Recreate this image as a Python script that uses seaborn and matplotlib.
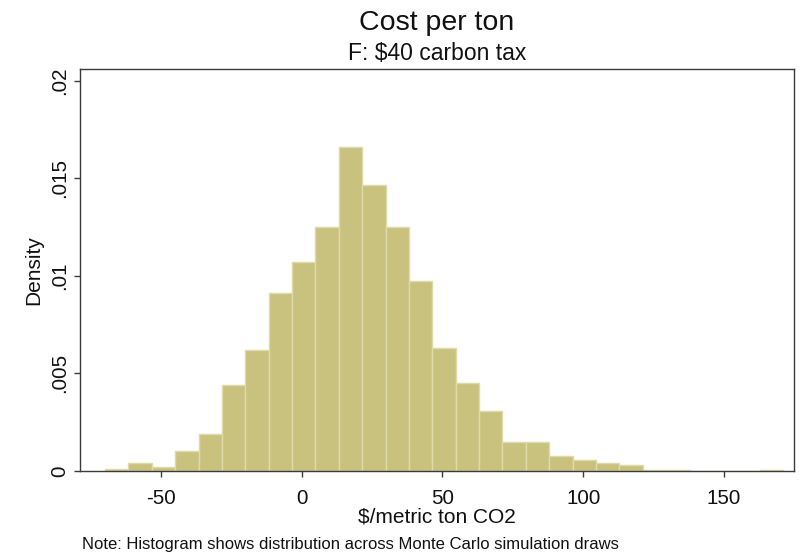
import numpy as np
import pandas as pd
import matplotlib
matplotlib.use("Agg")
import matplotlib.pyplot as plt
import seaborn as sns

# ---- data ----
bin_edges = [-69.8, -61.5, -53.2, -44.9, -36.6, -28.3, -20.0, -11.7, -3.4, 4.9,
             13.2, 21.5, 29.8, 38.1, 46.4, 54.7, 63.0, 71.3, 79.6, 87.9,
             96.2, 104.5, 112.8, 121.1, 129.4, 137.7, 146.0, 154.3, 162.6, 170.9]
density = [0.0001, 0.00043, 0.00018, 0.00104, 0.00188, 0.00441, 0.00621, 0.0091,
           0.0107, 0.0125, 0.01662, 0.01466, 0.0125, 0.00973, 0.00632, 0.00453,
           0.00308, 0.0015, 0.0015, 0.00077, 0.00055, 0.00043, 0.00029, 0.00007,
           0.00007, 0.0, 0.0, 0.0, 0.00007]
x_ticks = [-50, 0, 50, 100, 150]
x_tick_labels = ["-50", "0", "50", "100", "150"]
y_ticks = [0, 0.005, 0.01, 0.015, 0.02]
y_tick_labels = ["0", ".005", ".01", ".015", ".02"]

title = "Cost per ton"
subtitle = "F: $40 carbon tax"
x_label = "$/metric ton CO2"
y_label = "Density"
note = "Note: Histogram shows distribution across Monte Carlo simulation draws"

# ---- style ----
sns.set_theme(style="white")
plt.rcParams["font.family"] = ["Liberation Sans", "DejaVu Sans"]

W, H = 799, 554
fig = plt.figure(figsize=(W / 100, H / 100), dpi=100)
L, R, T, B = 80, 794, 69, 471
ax = fig.add_axes([L / W, 1 - B / H, (R - L) / W, (B - T) / H])

edges = np.array(bin_edges)
df = pd.DataFrame({"cost": (edges[:-1] + edges[1:]) / 2, "dens": density})
sns.histplot(data=df, x="cost", weights="dens", bins=list(bin_edges), stat="count", ax=ax,
             color="#C9C27E", edgecolor="#DEDAAA", linewidth=1.0, alpha=1.0)

ax.set_xlim(-78.7, 174.8)
ax.set_ylim(0, 0.0206)

frame_c = "#3a3a3a"
for s in ax.spines.values():
    s.set_visible(True)
    s.set_color(frame_c)
    s.set_linewidth(1.0)

ax.set_xticks(x_ticks)
ax.set_xticklabels(x_tick_labels)
ax.set_yticks(y_ticks)
ax.set_yticklabels(y_tick_labels)
ax.tick_params(axis="both", which="major", direction="out", length=4.6, width=1.0,
               color=frame_c, labelsize=14.8, labelcolor="#111111")
ax.tick_params(axis="x", pad=8.5, bottom=True)
ax.tick_params(axis="y", pad=3.0, left=True, labelrotation=90)
for lab in ax.get_yticklabels():
    lab.set_va("center")

ax.set_xlabel(x_label, fontsize=15, color="#111111")
ax.xaxis.label.set_va("baseline")
ax.xaxis.set_label_coords(0.5, -(523 - B) / (B - T))
ax.set_ylabel(y_label, fontsize=15, color="#111111")
ax.yaxis.label.set_va("baseline")
ax.yaxis.set_label_coords(-(L - 39) / (R - L), 0.5)

cx = (L + R) / 2 / W
fig.text(cx, 1 - 29.5 / H, title, ha="center", va="baseline", fontsize=20.5, color="#111111")
fig.text(cx, 1 - 60 / H, subtitle, ha="center", va="baseline", fontsize=16.5, color="#111111")
fig.text(82 / W, 1 - 548.5 / H, note, ha="left", va="baseline", fontsize=12, color="#111111")

fig.savefig("out.png", dpi=100, facecolor="white")
